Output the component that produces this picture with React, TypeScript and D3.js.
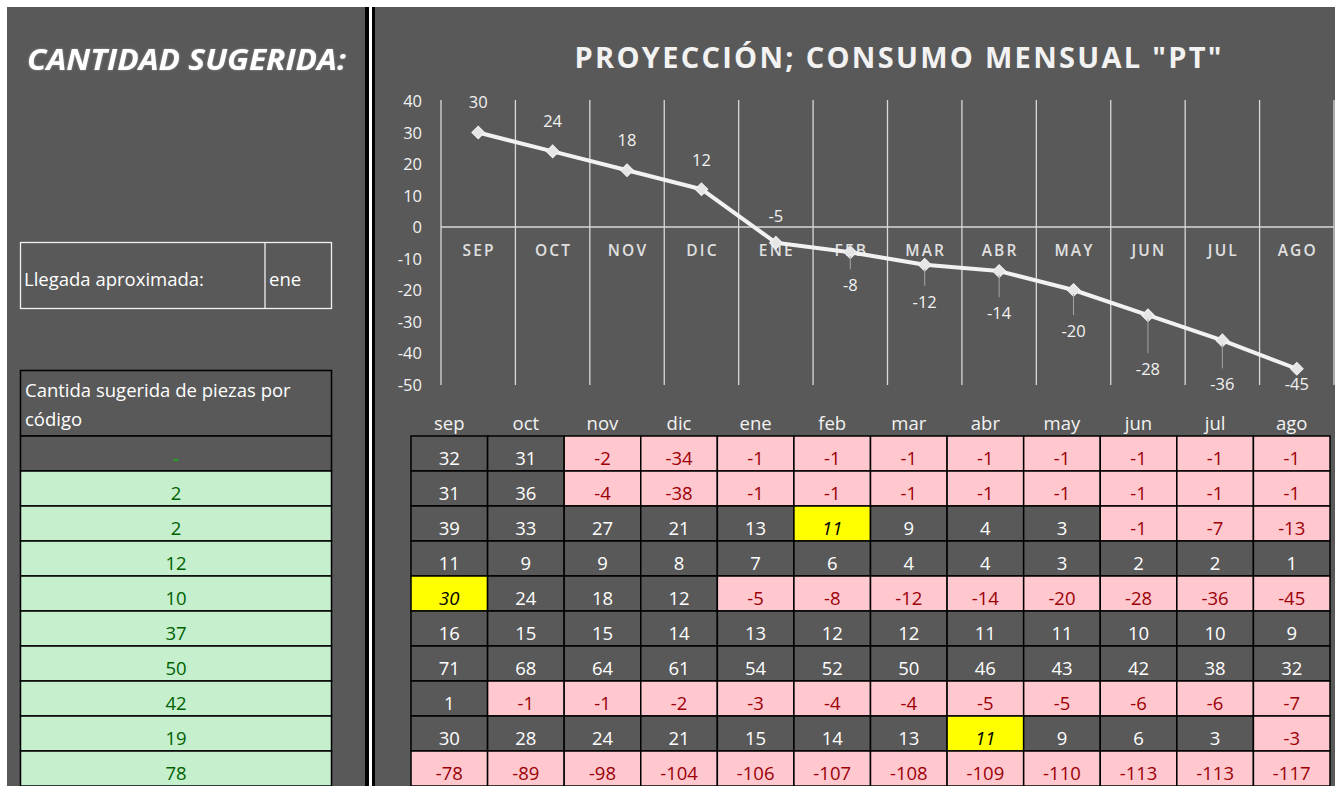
import React from "react";
import * as d3 from "d3";

const monthsLower = ["sep", "oct", "nov", "dic", "ene", "feb", "mar", "abr", "may", "jun", "jul", "ago"];
const monthsUpper = ["SEP", "OCT", "NOV", "DIC", "ENE", "FEB", "MAR", "ABR", "MAY", "JUN", "JUL", "AGO"];
const projection = [30, 24, 18, 12, -5, -8, -12, -14, -20, -28, -36, -45];
const labelOffsets = [-31, -30, -30, -29, -27, 33, 37, 42, 41, 54, 44, 15];
const yTicks = [40, 30, 20, 10, 0, -10, -20, -30, -40, -50];

const row1 = [32, 31, -2, -34, -1, -1, -1, -1, -1, -1, -1, -1];
const row2 = [31, 36, -4, -38, -1, -1, -1, -1, -1, -1, -1, -1];
const row3 = [39, 33, 27, 21, 13, 11, 9, 4, 3, -1, -7, -13];
const row4 = [11, 9, 9, 8, 7, 6, 4, 4, 3, 2, 2, 1];
const row5 = [30, 24, 18, 12, -5, -8, -12, -14, -20, -28, -36, -45];
const row6 = [16, 15, 15, 14, 13, 12, 12, 11, 11, 10, 10, 9];
const row7 = [71, 68, 64, 61, 54, 52, 50, 46, 43, 42, 38, 32];
const row8 = [1, -1, -1, -2, -3, -4, -4, -5, -5, -6, -6, -7];
const row9 = [30, 28, 24, 21, 15, 14, 13, 11, 9, 6, 3, -3];
const row10 = [-78, -89, -98, -104, -106, -107, -108, -109, -110, -113, -113, -117];
const tableRows = [row1, row2, row3, row4, row5, row6, row7, row8, row9, row10];
const highlighted = [[2, 5], [4, 0], [8, 7]];
const suggested = ["-", "2", "2", "12", "10", "37", "50", "42", "19", "78"];

const FONT = "'Open Sans', 'Noto Sans', sans-serif";
const GRAY = "#595959";

export default function App() {
  const x = d3.scaleBand<string>().domain(monthsUpper).range([441, 1334]).padding(0);
  const y = d3.scaleLinear().domain([-50, 40]).range([384.5, 101]);
  const colX = d3.scaleBand<string>().domain(monthsLower).range([411, 1330]).padding(0);
  const rowY = d3.scaleBand<number>().domain(d3.range(10)).range([436, 786]).padding(0);

  const pts = projection.map((v, i) => ({ v, i, cx: (x(monthsUpper[i]) ?? 0) + x.bandwidth() / 2, cy: y(v) }));
  const line = d3.line<{ cx: number; cy: number }>().x((d) => d.cx).y((d) => d.cy);
  const diamond = d3.symbol().type(d3.symbolSquare).size(80)() || "";
  const isHL = (r: number, c: number) => highlighted.some(([a, b]) => a === r && b === c);
  const gridXs = monthsUpper.map((m) => x(m) ?? 0).concat([1334]);

  return (
    <svg width={1335} height={786} style={{ position: "absolute", left: 0, top: 0, background: "#fff" }} fontFamily={FONT}>
      <defs>
        <filter id="glow" x="-10%" y="-30%" width="120%" height="160%">
          <feGaussianBlur in="SourceAlpha" stdDeviation="1.2" result="b" />
          <feFlood floodColor="#ffffff" floodOpacity="0.35" />
          <feComposite in2="b" operator="in" />
          <feMerge>
            <feMergeNode />
            <feMergeNode in="SourceGraphic" />
          </feMerge>
        </filter>
      </defs>
      {/* panels */}
      <rect x={7} y={7} width={358} height={779} fill={GRAY} />
      <rect x={365} y={7} width={4} height={779} fill="#000" />
      <rect x={369} y={7} width={3} height={779} fill="#fff" />
      <rect x={372} y={7} width={3} height={779} fill="#000" />
      <rect x={375} y={7} width={960} height={779} fill={GRAY} />

      {/* left panel */}
      <text x={27} y={70} fill="#fff" fontSize={29} fontWeight={700} fontStyle="italic" textLength={319} lengthAdjust="spacingAndGlyphs" filter="url(#glow)">
        CANTIDAD SUGERIDA:
      </text>
      <rect x={20.5} y={242.5} width={311} height={66} fill="none" stroke="#f2f2f2" strokeWidth={1.3} />
      <line x1={265} x2={265} y1={242.5} y2={308.5} stroke="#f2f2f2" strokeWidth={1.3} />
      <text x={24} y={286} fill="#fff" fontSize={18.5}>Llegada aproximada:</text>
      <text x={269} y={286} fill="#fff" fontSize={18.5}>ene</text>

      <rect x={20.5} y={370.5} width={311} height={65.5} fill={GRAY} stroke="#000" strokeWidth={1.5} />
      <text x={25} y={397} fill="#fff" fontSize={18.5}>Cantida sugerida de piezas por</text>
      <text x={25} y={426} fill="#fff" fontSize={18.5}>código</text>
      {suggested.map((s, i) => {
        const top = rowY(i) ?? 0;
        return (
          <g key={"s" + i}>
            <rect x={20.5} y={top} width={311} height={rowY.bandwidth()} fill={i === 0 ? GRAY : "#c6efce"} stroke="#000" strokeWidth={1.5} />
            <text x={176} y={top + 29} textAnchor="middle" fill={i === 0 ? "#2a9a2a" : "#006100"} fontSize={18.5} fontWeight={i === 0 ? 700 : 500}>{s}</text>
          </g>
        );
      })}

      {/* chart */}
      <text x={898} y={68} textAnchor="middle" fill="#f2f2f2" fontSize={29} fontWeight={700} textLength={647} lengthAdjust="spacing">
        PROYECCIÓN; CONSUMO MENSUAL "PT"
      </text>
      {gridXs.map((gx, i) => (
        <line key={"g" + i} x1={gx} x2={gx} y1={100} y2={385} stroke="#d9d9d9" strokeWidth={1.3} />
      ))}
      <line x1={441} x2={1334} y1={y(0)} y2={y(0)} stroke="#d9d9d9" strokeWidth={1.3} />
      {yTicks.map((t) => (
        <text key={"t" + t} x={422} y={y(t) + 6} textAnchor="end" fill="#f2f2f2" fontSize={16.5} fontWeight={500}>{t}</text>
      ))}
      {monthsUpper.map((m) => (
        <text key={"c" + m} x={(x(m) ?? 0) + x.bandwidth() / 2 + 1} y={256} textAnchor="middle" fill="#e0e0e0" fontSize={15.5} fontWeight={600} letterSpacing={2.2}>{m}</text>
      ))}
      <path d={line(pts) || ""} fill="none" stroke="#f2f2f2" strokeWidth={4} strokeLinejoin="round" />
      {pts.map((p) => (
        <path key={"m" + p.i} d={diamond} transform={`translate(${p.cx},${p.cy}) rotate(45)`} fill="#e6e6e6" stroke="#f2f2f2" strokeWidth={1} />
      ))}
      {pts.map((p) => {
        const off = labelOffsets[p.i];
        const ly = p.cy + off;
        return (
          <g key={"l" + p.i}>
            {off > 20 && (
              <line x1={p.cx} x2={p.cx} y1={p.cy + 4} y2={ly - 16} stroke="#a6a6a6" strokeWidth={1} />
            )}
            <text x={p.cx} y={ly + 6} textAnchor="middle" fill="#f2f2f2" fontSize={16.5} fontWeight={500}>{p.v}</text>
          </g>
        );
      })}

      {/* table */}
      {monthsLower.map((m) => (
        <text key={"h" + m} x={(colX(m) ?? 0) + colX.bandwidth() / 2} y={430} textAnchor="middle" fill="#f2f2f2" fontSize={18.5}>{m}</text>
      ))}
      {tableRows.map((row, r) =>
        row.map((v, c) => {
          const cx = colX(monthsLower[c]) ?? 0;
          const cy = rowY(r) ?? 0;
          const hl = isHL(r, c);
          const neg = v < 0;
          const fill = hl ? "#ffff00" : neg ? "#ffc7ce" : GRAY;
          const color = hl ? "#000" : neg ? "#9c0006" : "#fff";
          return (
            <g key={`c${r}-${c}`}>
              <rect x={cx} y={cy} width={colX.bandwidth()} height={rowY.bandwidth()} fill={fill} stroke="#000" strokeWidth={1.5} />
              <text x={cx + colX.bandwidth() / 2} y={cy + 29} textAnchor="middle" fill={color} fontSize={18.5} fontWeight={500} fontStyle={hl ? "italic" : "normal"}>{v}</text>
            </g>
          );
        })
      )}
    </svg>
  );
}
